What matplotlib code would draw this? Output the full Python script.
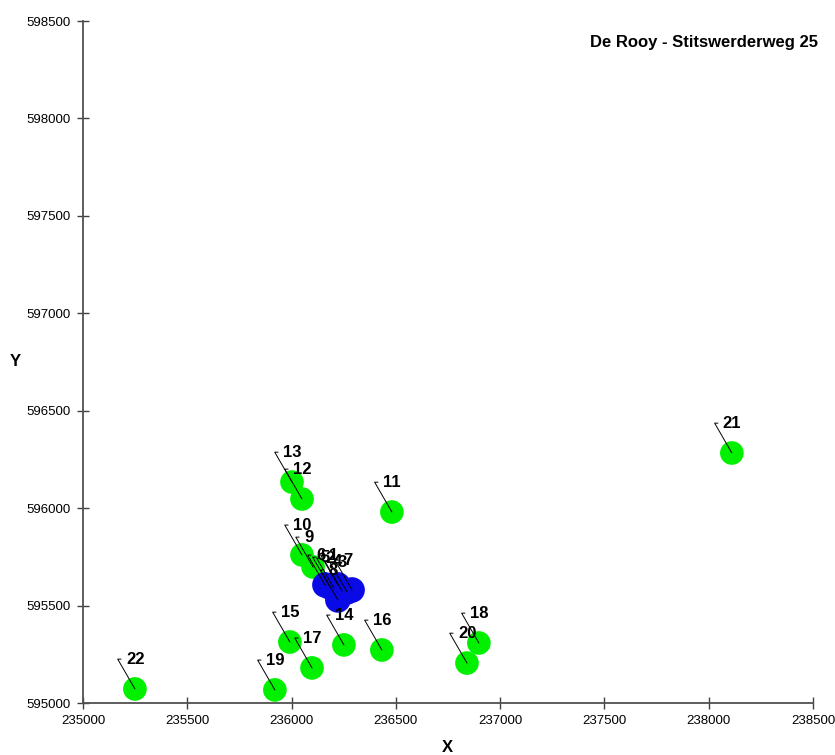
import matplotlib
matplotlib.use("Agg")
import matplotlib.pyplot as plt

# --- data ---
green_ids = [9, 10, 11, 12, 13, 14, 15, 16, 17, 18, 19, 20, 21, 22]
green_x = [236103, 236050, 236481, 236050, 236002, 236251, 235992, 236433,
           236098, 236898, 235920, 236841, 238111, 235249]
green_y = [595698, 595760, 595980, 596047, 596134, 595298, 595313, 595272,
           595180, 595308, 595067, 595205, 596283, 595072]

blue_ids = [1, 2, 3, 4, 5, 6, 7, 8]
blue_x = [236222, 236203, 236266, 236242, 236184, 236160, 236290, 236222]
blue_y = [595606, 595590, 595570, 595575, 595595, 595606, 595580, 595529]

title = "De Rooy - Stitswerderweg 25"
x_ticks = [235000, 235500, 236000, 236500, 237000, 237500, 238000, 238500]
y_ticks = [595000, 595500, 596000, 596500, 597000, 597500, 598000, 598500]

fig = plt.figure(figsize=(8.35, 7.55), dpi=100)
ax = fig.add_axes([83/835, 1 - 703/755, (813-83)/835, (703-21)/755])

ax.scatter(green_x, green_y, s=290, c="#00f000", edgecolors="none", zorder=2, clip_on=False)
ax.scatter(blue_x, blue_y, s=340, c="#0a0ae6", edgecolors="none", zorder=3, clip_on=False)

for ids, xs, ys in [(green_ids, green_x, green_y), (blue_ids, blue_x, blue_y)]:
    for i, x, y in zip(ids, xs, ys):
        ax.annotate(str(i), xy=(x, y), xytext=(-6.5, 21.5), textcoords="offset points",
                    ha="left", va="center", fontsize=12, fontweight="bold",
                    family="Liberation Sans", color="black", zorder=5,
                    arrowprops=dict(arrowstyle="-", color="black", lw=0.7,
                                    connectionstyle="angle,angleA=180,angleB=120,rad=0",
                                    relpos=(0, 0.5), shrinkA=1.5, shrinkB=0))

ax.set_xlim(235000, 238500)
ax.set_ylim(595000, 598500)
ax.set_xticks(x_ticks)
ax.set_yticks(y_ticks)
ax.set_xticklabels([str(v) for v in x_ticks], family="Liberation Sans", fontsize=9.5)
ax.set_yticklabels([str(v) for v in y_ticks], family="Liberation Sans", fontsize=9.5)
ax.tick_params(direction="inout", length=8, width=1.0, color="#404040", pad=5)
for s in ["top", "right"]:
    ax.spines[s].set_visible(False)
for s in ["left", "bottom"]:
    ax.spines[s].set_color("#505050")
    ax.spines[s].set_linewidth(1.3)

fig.text(447/835, 1 - 748/755, "X", ha="center", va="center", fontsize=12,
         fontweight="bold", family="Liberation Sans")
fig.text(15/835, 1 - 362/755, "Y", ha="center", va="center", fontsize=12,
         fontweight="bold", family="Liberation Sans")
fig.text(818/835, 1 - 42/755, title, ha="right", va="center", fontsize=12,
         fontweight="bold", family="Liberation Sans")

fig.savefig("out.png", dpi=100)
